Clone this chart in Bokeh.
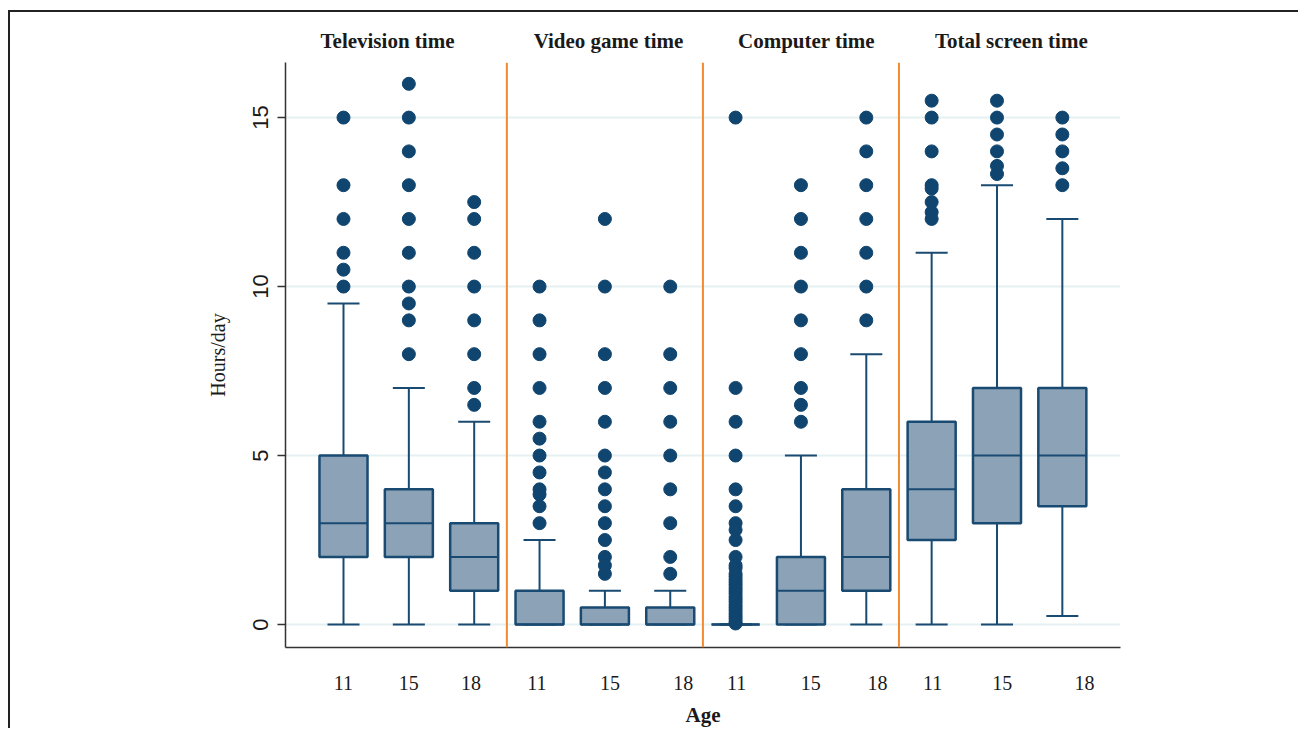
import numpy as np
from bokeh.plotting import figure
from bokeh.models import Span, FixedTicker, LinearAxis
from bokeh.embed import file_html
from bokeh.resources import INLINE

# ---------------- data ----------------
measures = ["Television time", "Video game time", "Computer time", "Total screen time"]
ages = ["11", "15", "18"]

whisker_low = [0, 0, 0, 0, 0, 0, 0, 0, 0, 0, 0, 0.25]
q1 = [2, 2, 1, 0, 0, 0, 0, 0, 1, 2.5, 3, 3.5]
median = [3, 3, 2, 0, 0, 0, 0, 1, 2, 4, 5, 5]
q3 = [5, 4, 3, 1, 0.5, 0.5, 0, 2, 4, 6, 7, 7]
whisker_high = [9.5, 7, 6, 2.5, 1, 1, 0, 5, 8, 11, 13, 12]

outliers = [
    [15, 13, 12, 11, 10.5, 10],
    [16, 15, 14, 13, 12, 11, 10, 9.5, 9, 8],
    [12.5, 12, 11, 10, 9, 8, 7, 6.5],
    [10, 9, 8, 7, 6, 5.5, 5, 4.5, 4, 3.85, 3.5, 3],
    [12, 10, 8, 7, 6, 5, 4.5, 4, 3.5, 3, 2.5, 2, 1.75, 1.5],
    [10, 8, 7, 6, 5, 4, 3, 2, 1.5],
    [15, 7, 6, 5, 4, 3.5, 3, 2.8, 2.5, 2, 1.75, 1.67, 1.5, 1.42, 1.33, 1.25,
     1.17, 1.08, 1, 0.92, 0.83, 0.75, 0.67, 0.58, 0.5, 0.42, 0.33, 0.25,
     0.17, 0.08, 0.03],
    [13, 12, 11, 10, 9, 8, 7, 6.5, 6],
    [15, 14, 13, 12, 11, 10, 9],
    [15.5, 15, 14, 13, 12.9, 12.5, 12.2, 12],
    [15.5, 15, 14.5, 14, 13.57, 13.33],
    [15, 14.5, 14, 13.5, 13],
]

# ---------------- styling ----------------
BOX_FILL = "#8ca3b7"
DARK = "#184a72"
DOT = "#10456f"
ORANGE = "#f28a32"
SERIF = "Liberation Serif"
SANS = "Liberation Sans"
TXT = "#1a1a1a"

n = len(q1)
pos = np.arange(n, dtype=float)
box_w = 0.735
cap_w = 0.49

p = figure(width=1290, height=718, output_backend="svg", toolbar_location=None,
           x_range=(-0.8875, 11.89), y_range=(-0.68, 16.63),
           min_border_left=275, min_border_right=180,
           min_border_top=50, min_border_bottom=83)
p.styles = {"border-top": "2px solid #222", "border-left": "2px solid #222",
            "margin-top": "10px", "margin-left": "8px"}
p.outline_line_color = None
p.background_fill_color = "white"
p.border_fill_color = "white"

# grid
p.xgrid.visible = False
p.ygrid.ticker = FixedTicker(ticks=[0, 5, 10, 15])
p.ygrid.grid_line_color = "#e5f0f2"
p.ygrid.grid_line_width = 2

# group separators
for b in [2.5, 5.5, 8.5]:
    p.add_layout(Span(location=b, dimension="height", line_color=ORANGE, line_width=2))

# whiskers
p.segment(x0=pos, x1=pos, y0=q3, y1=whisker_high, line_color=DARK, line_width=2)
p.segment(x0=pos, x1=pos, y0=whisker_low, y1=q1, line_color=DARK, line_width=2)
# caps
p.segment(x0=pos - cap_w / 2, x1=pos + cap_w / 2, y0=whisker_high, y1=whisker_high,
          line_color=DARK, line_width=2)
p.segment(x0=pos - cap_w / 2, x1=pos + cap_w / 2, y0=whisker_low, y1=whisker_low,
          line_color=DARK, line_width=2)
# boxes
p.vbar(x=pos, width=box_w, bottom=q1, top=q3, fill_color=BOX_FILL,
       line_color=DARK, line_width=2.5)
# medians
p.segment(x0=pos - box_w / 2, x1=pos + box_w / 2, y0=median, y1=median,
          line_color=DARK, line_width=2)

# outliers
ox, oy = [], []
for i, vals in enumerate(outliers):
    ox += [pos[i]] * len(vals)
    oy += vals
p.scatter(ox, oy, size=13, fill_color=DOT, line_color=DOT)

# x axis
tick_nudge = [0.0, 0, -0.05, -0.04, 0.08, 0.2, 0.015, 0.15, 0.17, 0.015, 0.08, 0.34]
tick_labels = ages * len(measures)
xticks = [round(pos[i] + tick_nudge[i], 3) for i in range(n)]
p.xaxis.ticker = FixedTicker(ticks=xticks)
p.xaxis.major_label_overrides = {t: lab for t, lab in zip(xticks, tick_labels)}
p.xaxis.major_tick_out = 0
p.xaxis.major_tick_in = 0
p.xaxis.minor_tick_line_color = None
p.xaxis.axis_line_color = "#333333"
p.xaxis.axis_line_width = 1.5
p.xaxis.major_label_text_font = SERIF
p.xaxis.major_label_text_font_size = "20px"
p.xaxis.major_label_text_color = TXT
p.xaxis.major_label_standoff = 28
p.xaxis.axis_label = "Age"
p.xaxis.axis_label_text_font = SERIF
p.xaxis.axis_label_text_font_style = "bold"
p.xaxis.axis_label_text_font_size = "21px"
p.xaxis.axis_label_text_color = TXT
p.xaxis.axis_label_standoff = 10

# panel titles as an axis above the frame
title_x = [0.673, 4.055, 7.085, 10.22]
top_axis = LinearAxis(ticker=FixedTicker(ticks=title_x),
                      major_label_overrides={t: m for t, m in zip(title_x, measures)})
top_axis.axis_line_color = None
top_axis.major_tick_line_color = None
top_axis.minor_tick_line_color = None
top_axis.major_tick_out = 0
top_axis.major_tick_in = 0
top_axis.major_label_standoff = 10
top_axis.major_label_text_font = SERIF
top_axis.major_label_text_font_style = "bold"
top_axis.major_label_text_font_size = "21px"
top_axis.major_label_text_color = TXT
p.add_layout(top_axis, "above")

# y axis
p.yaxis.ticker = FixedTicker(ticks=[0, 5, 10, 15])
p.yaxis.major_label_orientation = "vertical"
p.yaxis.major_tick_out = 8
p.yaxis.major_tick_in = 0
p.yaxis.major_tick_line_width = 1.5
p.yaxis.major_tick_line_color = "#333333"
p.yaxis.minor_tick_line_color = None
p.yaxis.axis_line_color = "#333333"
p.yaxis.axis_line_width = 1.5
p.yaxis.major_label_text_font = SANS
p.yaxis.major_label_text_font_size = "22px"
p.yaxis.major_label_text_color = TXT
p.yaxis.major_label_standoff = 9
p.yaxis.axis_label = "Hours/day"
p.yaxis.axis_label_text_font = SERIF
p.yaxis.axis_label_text_font_style = "normal"
p.yaxis.axis_label_text_font_size = "20px"
p.yaxis.axis_label_text_color = TXT
p.yaxis.axis_label_standoff = 22

open("out.html", "w").write(file_html(p, INLINE))
